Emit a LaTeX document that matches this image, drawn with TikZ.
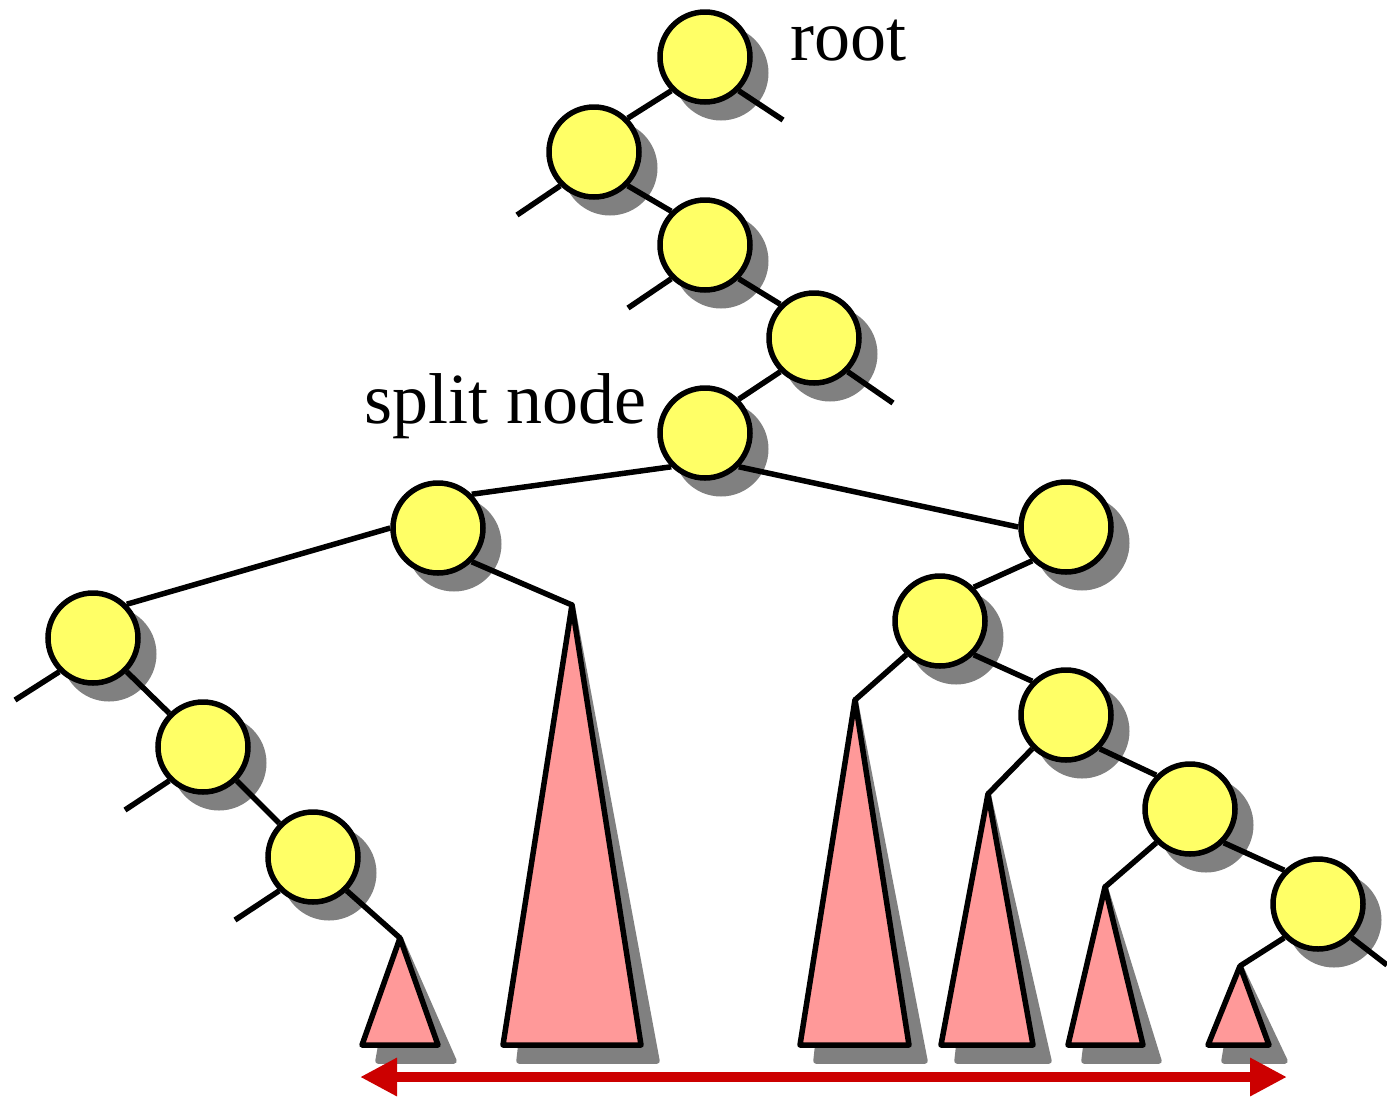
\documentclass[tikz,border=0pt]{standalone}
\usepackage{fontspec}
\setmainfont{Liberation Serif}
\usetikzlibrary{arrows.meta}
\definecolor{shadowgray}{HTML}{808080}
\definecolor{nodeyellow}{HTML}{FFFF66}
\definecolor{treepink}{HTML}{FF9999}
\definecolor{arrowred}{HTML}{CC0000}
\pgfdeclarelayer{bglayer}
\pgfdeclarelayer{shadowlayer}
\pgfdeclarelayer{linelayer}
\pgfsetlayers{bglayer,shadowlayer,linelayer,main}
\tikzset{
  tnode/.style={circle, draw=black, fill=nodeyellow, line width=5.5pt, minimum size=90pt, inner sep=0pt},
  edge/.style={draw=black, line width=5.5pt},
  subtree/.style={draw=black, fill=treepink, line width=5.5pt, line join=round},
  shade/.style={fill=shadowgray, draw=shadowgray, line width=5.5pt, line join=round},
  lbl/.style={font=\fontsize{72}{86}\selectfont, inner sep=0pt, anchor=base west},
  span/.style={draw=arrowred, line width=10pt, {Triangle[length=37pt,width=36pt]}-{Triangle[length=37pt,width=36pt]}}
}
\begin{document}
\begin{tikzpicture}[x=1pt,y=-1pt]
\useasboundingbox (0,0) rectangle (1387,1096);
\begin{pgfonlayer}{bglayer}
\fill[white] (0,0) rectangle (1387,1096);
\end{pgfonlayer}
% tree nodes
\node[tnode] (r) at (705,57) {};
\node[tnode] (a) at (594,152) {};
\node[tnode] (b) at (705,245) {};
\node[tnode] (c) at (814,338) {};
\node[tnode] (s) at (705,433) {};
\node[tnode] (d) at (438,528) {};
\node[tnode] (e) at (1066,527) {};
\node[tnode] (f) at (93,638) {};
\node[tnode] (g) at (203,747) {};
\node[tnode] (h) at (313,857) {};
\node[tnode] (i) at (940,621) {};
\node[tnode] (j) at (1066,715) {};
\node[tnode] (k) at (1190,809) {};
\node[tnode] (l) at (1318,904) {};
% labels
\node[lbl] (rootlbl) at (790,60) {root};
\node[lbl] (splitlbl) at (364,423) {split node};
% stub ends and subtree apexes
\coordinate (sr) at (783,120);
\coordinate (sa) at (517,215);
\coordinate (sb) at (628,308);
\coordinate (sc) at (893,403);
\coordinate (sf) at (15,700);
\coordinate (sg) at (125,810);
\coordinate (sh) at (235,920);
\coordinate (sl) at (1387,965);
\coordinate (t1) at (400,938);
\coordinate (t2) at (572,605);
\coordinate (t3) at (855,700);
\coordinate (t4) at (988,794);
\coordinate (t5) at (1105,887);
\coordinate (t6) at (1240,966);
% shadows
\begin{pgfonlayer}{shadowlayer}
\foreach \n in {r,a,b,c,s,d,e,f,g,h,i,j,k,l}
  \fill[shadowgray] ([shift={(16,16)}]\n.center) circle (47.5);
\begin{scope}[shift={(16,16)}]
\filldraw[shade] (t1) -- (438,1045) -- (362,1045) -- cycle;
\filldraw[shade] (t2) -- (641,1045) -- (503,1045) -- cycle;
\filldraw[shade] (t3) -- (909,1045) -- (800,1045) -- cycle;
\filldraw[shade] (t4) -- (1033,1045) -- (941,1045) -- cycle;
\filldraw[shade] (t5) -- (1143,1045) -- (1068,1045) -- cycle;
\filldraw[shade] (t6) -- (1269,1045) -- (1208,1045) -- cycle;
\end{scope}
\end{pgfonlayer}
% edges
\begin{pgfonlayer}{linelayer}
\draw[edge] (r.315) -- (sr);
\draw[edge] (r.225) -- (a.45);
\draw[edge] (a.225) -- (sa);
\draw[edge] (a.315) -- (b.135);
\draw[edge] (b.225) -- (sb);
\draw[edge] (b.315) -- (c.135);
\draw[edge] (c.315) -- (sc);
\draw[edge] (c.225) -- (s.45);
\draw[edge] (s.225) -- (d.45);
\draw[edge] (s.315) -- (e.180);
\draw[edge] (d.180) -- (f.45);
\draw[edge] (d.315) -- (t2);
\draw[edge] (f.225) -- (sf);
\draw[edge] (f.315) -- (g.135);
\draw[edge] (g.225) -- (sg);
\draw[edge] (g.315) -- (h.135);
\draw[edge] (h.225) -- (sh);
\draw[edge] (h.315) -- (t1);
\draw[edge] (e.225) -- (i.45);
\draw[edge] (i.225) -- (t3);
\draw[edge] (i.315) -- (j.135);
\draw[edge] (j.225) -- (t4);
\draw[edge] (j.315) -- (k.135);
\draw[edge] (k.225) -- (t5);
\draw[edge] (k.315) -- (l.135);
\draw[edge] (l.225) -- (t6);
\draw[edge] (l.315) -- (sl);
% subtrees
\filldraw[subtree] (t1) -- (438,1045) -- (362,1045) -- cycle;
\filldraw[subtree] (t2) -- (641,1045) -- (503,1045) -- cycle;
\filldraw[subtree] (t3) -- (909,1045) -- (800,1045) -- cycle;
\filldraw[subtree] (t4) -- (1033,1045) -- (941,1045) -- cycle;
\filldraw[subtree] (t5) -- (1143,1045) -- (1068,1045) -- cycle;
\filldraw[subtree] (t6) -- (1269,1045) -- (1208,1045) -- cycle;
\end{pgfonlayer}
% range arrow
\coordinate (al) at (360,1077);
\coordinate (ar) at (1287,1077);
\draw[span] (al) -- (ar);
\end{tikzpicture}
\end{document}
